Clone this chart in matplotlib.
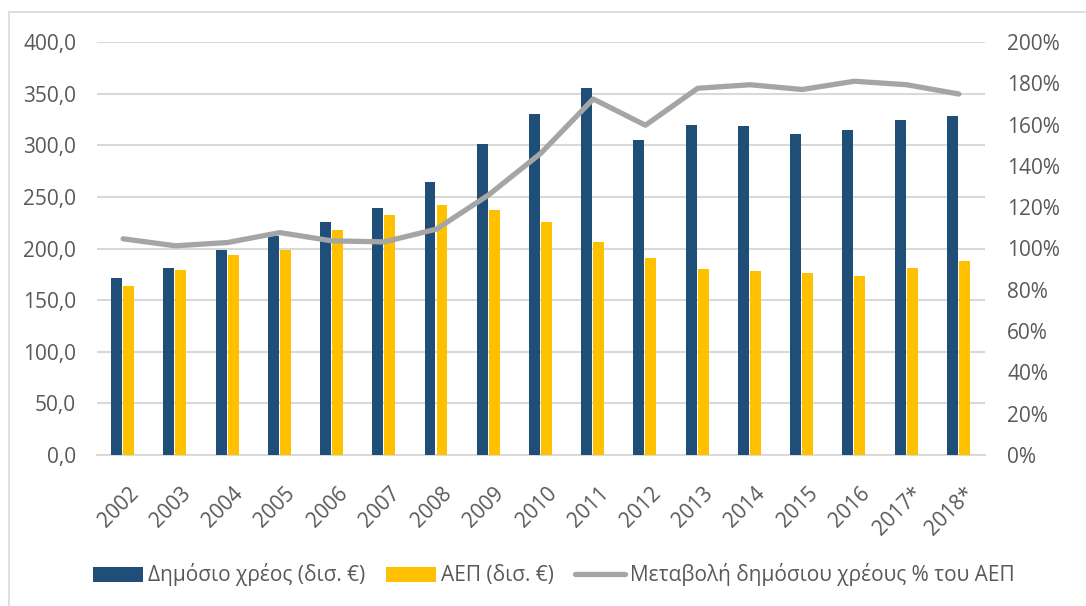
import matplotlib
matplotlib.use("Agg")
import matplotlib.pyplot as plt
from matplotlib.patches import Rectangle
from matplotlib.ticker import FuncFormatter
from matplotlib.transforms import ScaledTranslation
import numpy as np

years = ["2002", "2003", "2004", "2005", "2006", "2007", "2008", "2009", "2010",
         "2011", "2012", "2013", "2014", "2015", "2016", "2017*", "2018*"]
debt = [171.0, 181.3, 199.0, 212.0, 225.5, 239.7, 264.5, 301.0, 330.5,
        355.8, 304.8, 320.0, 319.0, 311.3, 314.5, 324.5, 328.4]
gdp = [163.5, 179.0, 193.5, 199.0, 217.7, 232.0, 242.0, 237.0, 225.6,
       206.5, 190.6, 180.0, 178.4, 175.8, 173.5, 181.0, 188.0]
ratio = [104.7, 101.3, 102.9, 107.7, 103.7, 103.2, 109.4, 126.0, 146.2,
         172.4, 159.7, 177.6, 179.3, 177.0, 181.0, 179.3, 174.8]

plt.rcParams['font.family'] = ['Open Sans', 'DejaVu Sans']
text_col = "#595959"
grid_col = "#D9D9D9"
fs = 15

fig = plt.figure(figsize=(10.86, 6.06), dpi=100)
ax = fig.add_axes([97 / 1086, 1 - 455 / 606, 888 / 1086, 413 / 606])
ax2 = ax.twinx()

x = np.arange(len(years))
w = 0.21
ax.bar(x - 0.125, debt, w, color="#1F4E79", label="Δημόσιο χρέος (δισ. €)", zorder=3)
ax.bar(x + 0.105, gdp, w, color="#FFC000", label="ΑΕΠ (δισ. €)", zorder=3)
ax2.plot(x, ratio, color="#A5A5A5", lw=3.8, solid_capstyle="round",
         solid_joinstyle="round", label="Μεταβολή δημόσιου χρέους % του ΑΕΠ")

ax.set_xlim(-0.5, len(years) - 0.5)
ax.set_ylim(0, 400)
ax2.set_ylim(0, 200)
ax.set_yticks(np.arange(0, 401, 50))
ax2.set_yticks(np.arange(0, 201, 20))
ax.yaxis.set_major_formatter(FuncFormatter(lambda v, p: f"{v:.1f}".replace(".", ",")))
ax2.yaxis.set_major_formatter(FuncFormatter(lambda v, p: f"{v:.0f}%"))

ax.grid(axis="y", color=grid_col, lw=1.5, zorder=0)
ax.set_axisbelow(True)
for a in (ax, ax2):
    for s in a.spines.values():
        s.set_visible(False)
    a.tick_params(length=0, colors=text_col, labelsize=fs)
ax.spines["bottom"].set_visible(True)
ax.spines["bottom"].set_color(grid_col)
ax.spines["bottom"].set_linewidth(1.5)
ax.tick_params(axis="y", pad=15)
ax2.tick_params(axis="y", pad=16)

ax.set_xticks(x)
ax.set_xticklabels(years, rotation=45, ha="right", rotation_mode="anchor")
ax.tick_params(axis="x", pad=20)
shift = ScaledTranslation(5 / 100, 0, fig.dpi_scale_trans)
for lab in ax.get_xticklabels():
    lab.set_transform(lab.get_transform() + shift)

h1, l1 = ax.get_legend_handles_labels()
h2, l2 = ax2.get_legend_handles_labels()
leg = fig.legend(h1 + h2, l1 + l2, loc="center", bbox_to_anchor=(0.51, 1 - 575 / 606),
                 ncol=3, frameon=False, fontsize=fs, handlelength=2.4,
                 handletextpad=0.25, columnspacing=1.0)
for t in leg.get_texts():
    t.set_color(text_col)

# outer frame: only top and left edges are inside the picture
fig.patches.append(Rectangle((9 / 1086, -0.1), 1.2, 1 - 12.5 / 606 + 0.1,
                             transform=fig.transFigure, fill=False,
                             edgecolor=grid_col, lw=1.2))

fig.savefig("out.png", dpi=100)
